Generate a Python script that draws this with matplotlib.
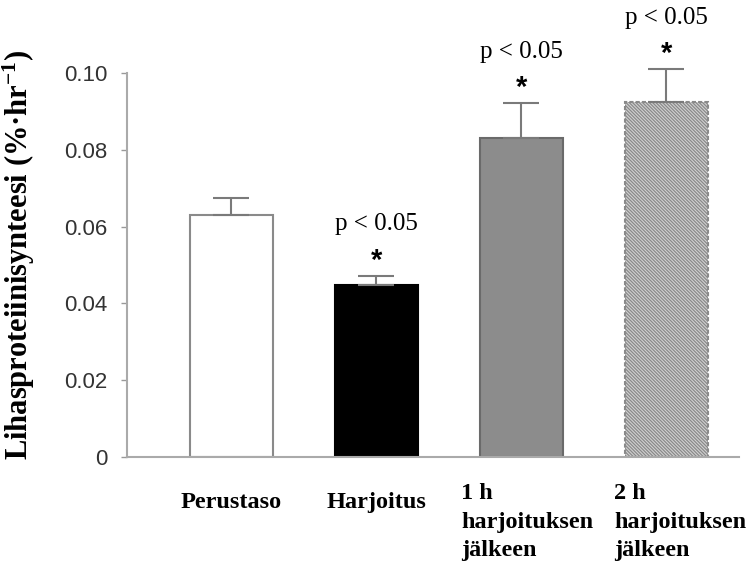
import numpy as np
import matplotlib
matplotlib.use("Agg")
import matplotlib.pyplot as plt
from matplotlib.transforms import ScaledTranslation

# Data
categories = ["Perustaso", "Harjoitus", "1 h\nharjoituksen\njälkeen", "2 h\nharjoituksen\njälkeen"]
values = [0.0630, 0.0448, 0.0831, 0.0924]
errors = [0.0045, 0.0024, 0.0091, 0.0086]
significant = [False, True, True, True]
yticks = [0, 0.02, 0.04, 0.06, 0.08, 0.10]
ytick_labels = ["0", "0.02", "0.04", "0.06", "0.08", "0.10"]

plt.rcParams['mathtext.fontset'] = 'custom'
plt.rcParams['mathtext.rm'] = 'Liberation Serif:bold'
plt.rcParams['mathtext.it'] = 'Liberation Serif:bold'
plt.rcParams['mathtext.bf'] = 'Liberation Serif:bold'
plt.rcParams['hatch.linewidth'] = 0.9

fig = plt.figure(figsize=(7.56, 5.66), dpi=100)
ax = fig.add_axes([0.168, 0.1926, 0.8095, 0.7802])

x = np.arange(len(categories))
faces = ['white', 'black', '#8c8c8c', '#d2d2d2']
edges = ['#8a8a8a', 'black', '#6a6a6a', '#8a8a8a']
hatches = [None, None, None, '\\\\\\\\\\\\\\\\\\\\']

bars = ax.bar(x, values, width=0.57, color=faces, edgecolor=edges, linewidth=1.5, zorder=2)
for b, h in zip(bars, hatches):
    if h:
        b.set_hatch(h)
bars[3].set_linestyle((0, (2, 1)))

ax.errorbar(x, values, yerr=[np.zeros(len(errors)), errors], fmt='none',
            ecolor='#7a7a7a', elinewidth=1.5, capsize=13, capthick=1.5, zorder=3)

for xi, v, e, s in zip(x, values, errors, significant):
    if not s:
        continue
    top = v + e
    ax.annotate('*', xy=(xi, top), xytext=(0, 11), textcoords='offset points',
                ha='center', va='center', fontsize=21, fontweight='bold',
                family='Liberation Sans', annotation_clip=False)
    ax.annotate('p < 0.05', xy=(xi, top), xytext=(0, 37), textcoords='offset points',
                ha='center', va='center', fontsize=18, family='Liberation Serif',
                annotation_clip=False)

ax.set_xlim(-0.72, 3.5)
ax.set_ylim(0, 0.115)
ax.set_yticks(yticks)
ax.set_yticklabels(ytick_labels, fontsize=16, family='Liberation Sans', color='#333333')
ax.set_xticks(x)
ax.set_xticklabels(categories, fontsize=17.5, fontweight='bold', family='Liberation Serif',
                   va='top', multialignment='left', linespacing=1.45)
ax.tick_params(axis='x', length=0, pad=19)
ax.tick_params(axis='y', length=4, width=1, color='#999999', pad=10)

# nudge tick labels (pixels) to sit like the original
shift_px = [(0, -9), (0, -9), (6, 0), (14, 0)]
for lab, (dx, dy) in zip(ax.get_xticklabels(), shift_px):
    lab.set_transform(lab.get_transform() + ScaledTranslation(dx / 100, dy / 100, fig.dpi_scale_trans))

for side in ['top', 'right']:
    ax.spines[side].set_visible(False)
ax.spines['left'].set_bounds(0, 0.10)
ax.spines['left'].set_color('#aaaaaa')
ax.spines['left'].set_linewidth(1.5)
ax.spines['bottom'].set_color('#aaaaaa')
ax.spines['bottom'].set_linewidth(1.5)

ax.set_ylabel('Lihasproteiinisynteesi (%·hr$^{-1}$)', fontsize=22, fontweight='bold',
              family='Liberation Serif')
ax.yaxis.set_label_coords(-0.147, 0.457)

fig.savefig('out.png', dpi=100, facecolor='white')
